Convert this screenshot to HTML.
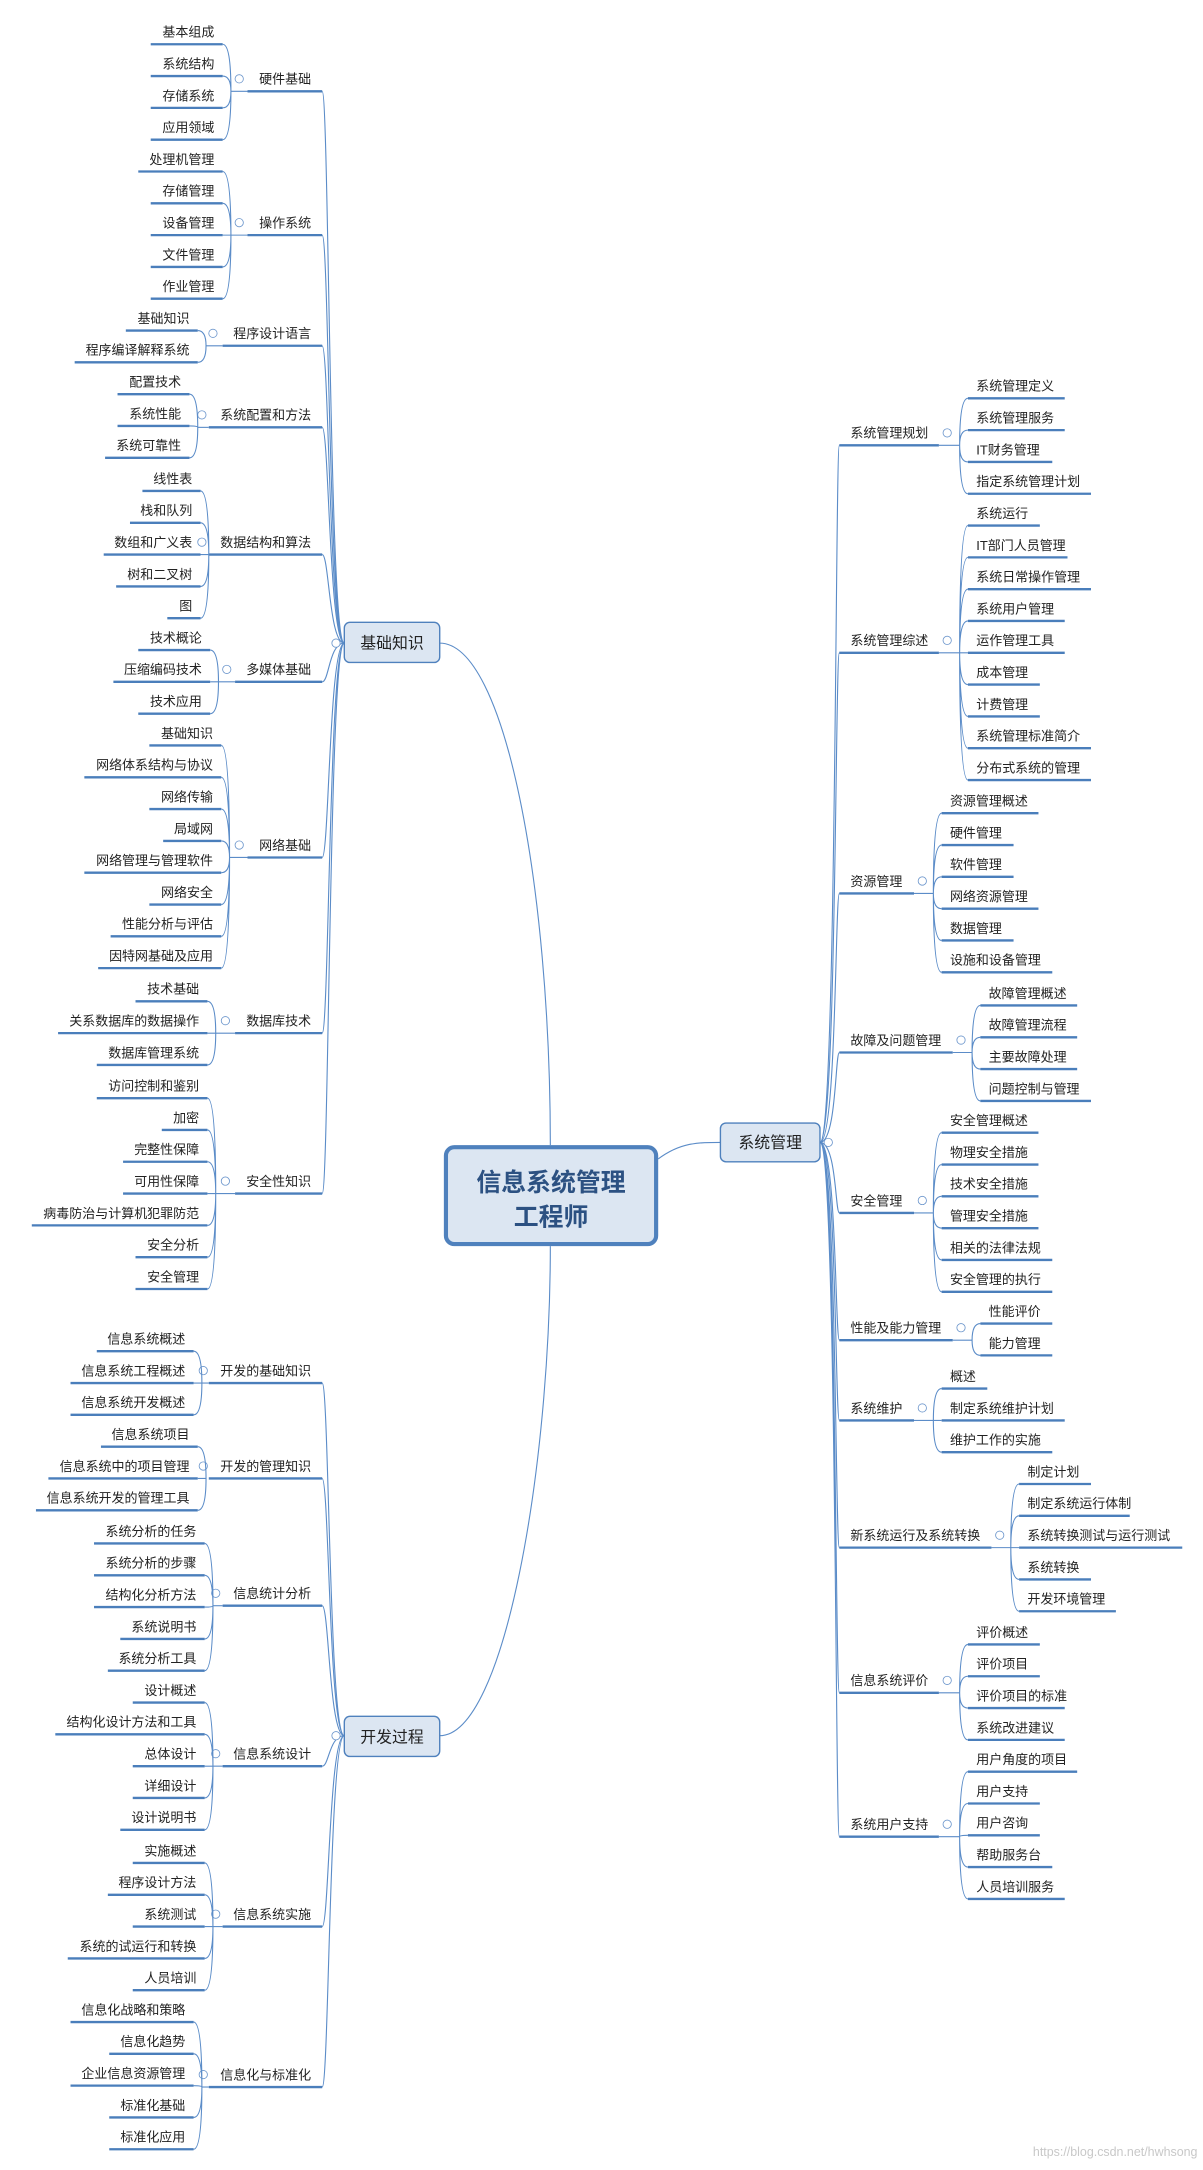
<!DOCTYPE html>
<html><head><meta charset="utf-8">
<style>
html,body{margin:0;padding:0;background:#fff;}
svg{display:block;}
text{font-family:"Liberation Sans","Noto Sans CJK SC","WenQuanYi Zen Hei",sans-serif;font-size:9.4px;fill:#222;}
.u{stroke:#4a7ebb;stroke-width:1.7;fill:none;}
.c{stroke:#5b8cc8;stroke-width:0.8;fill:none;}
.e{text-anchor:end;}
.ci{fill:#fff;stroke:#6c96cc;stroke-width:0.6;}
</style></head><body>
<svg width="1203" height="2170" viewBox="0 0 870 1569" preserveAspectRatio="none" xmlns="http://www.w3.org/2000/svg">
<!-- center connectors -->
<path class="c" d="M318 465C365 465 398 640 398 828"/>
<path class="c" d="M318 1255C365 1255 398 1060 398 901"/>
<path class="c" d="M476 838C492 826 505 826 521 826"/>
<!-- left spine 1 -->
<path class="c" d="M249 465C238 465 238 66 233 66M249 465C238 465 238 170 233 170M249 465C238 465 238 250 233 250M249 465C238 465 238 309 233 309M249 465C238 465 238 401 233 401M249 465C238 465 238 493 233 493M249 465C238 465 238 620 233 620M249 465C238 465 238 747 233 747M249 465C238 465 238 863 233 863"/>
<!-- left spine 2 -->
<path class="c" d="M249 1255C238 1255 238 1000 233 1000M249 1255C238 1255 238 1069 233 1069M249 1255C238 1255 238 1161 233 1161M249 1255C238 1255 238 1277 233 1277M249 1255C238 1255 238 1393 233 1393M249 1255C238 1255 238 1509 233 1509"/>
<!-- right spine -->
<path class="c" d="M593 826C605 826 604 322 607 322M593 826C605 826 604 472 607 472M593 826C605 826 604 646 607 646M593 826C605 826 604 761 607 761M593 826C605 826 604 877 607 877M593 826C605 826 604 969 607 969M593 826C605 826 604 1027 607 1027M593 826C605 826 604 1119 607 1119M593 826C605 826 604 1224 607 1224M593 826C605 826 604 1328 607 1328"/>

<!-- boxes -->
<rect x="249" y="450" width="69" height="29" rx="4" fill="#dce6f2" stroke="#4f81bd" stroke-width="1"/>
<text x="283.5" y="469" text-anchor="middle" style="font-size:11.5px">基础知识</text>
<circle class="ci" cx="243" cy="465" r="3"/>
<rect x="249" y="1241" width="69" height="29" rx="4" fill="#dce6f2" stroke="#4f81bd" stroke-width="1"/>
<text x="283.5" y="1260" text-anchor="middle" style="font-size:11.5px">开发过程</text>
<circle class="ci" cx="243" cy="1255" r="3"/>
<rect x="521" y="812" width="72" height="28" rx="4" fill="#dce6f2" stroke="#4f81bd" stroke-width="1"/>
<text x="557" y="830" text-anchor="middle" style="font-size:11.5px">系统管理</text>
<circle class="ci" cx="599" cy="826" r="3"/>
<rect x="322.5" y="829.5" width="152" height="70" rx="6" fill="#dce6f2" stroke="#4f81bd" stroke-width="3"/>
<text x="398.5" y="861" text-anchor="middle" style="font-size:18px;font-weight:bold;fill:#2c5182">信息系统管理</text>
<text x="398.5" y="886" text-anchor="middle" style="font-size:18px;font-weight:bold;fill:#2c5182">工程师</text>

<!-- ===== LEFT GROUP 1 ===== -->
<!-- 硬件基础 -->
<path class="u" d="M179 66H233"/><path class="c" d="M167 66H179"/><circle class="ci" cx="173" cy="57" r="3"/>
<text class="e" x="225" y="60.5">硬件基础</text>
<path class="c" d="M167 66Q167 32 161 32M167 66Q167 55 161 55M167 66Q167 78 161 78M167 66Q167 101 161 101"/>
<path class="u" d="M109 32H161M109 55H161M109 78H161M109 101H161"/>
<text class="e" x="155" y="26.5">基本组成</text><text class="e" x="155" y="49.5">系统结构</text><text class="e" x="155" y="72.5">存储系统</text><text class="e" x="155" y="95.5">应用领域</text>
<!-- 操作系统 -->
<path class="u" d="M179 170H233"/><path class="c" d="M167 170H179"/><circle class="ci" cx="173" cy="161" r="3"/>
<text class="e" x="225" y="164.5">操作系统</text>
<path class="c" d="M167 170Q167 124 161 124M167 170Q167 147 161 147M167 170H161M167 170Q167 193 161 193M167 170Q167 216 161 216"/>
<path class="u" d="M100 124H161M109 147H161M109 170H161M109 193H161M109 216H161"/>
<text class="e" x="155" y="118.5">处理机管理</text><text class="e" x="155" y="141.5">存储管理</text><text class="e" x="155" y="164.5">设备管理</text><text class="e" x="155" y="187.5">文件管理</text><text class="e" x="155" y="210.5">作业管理</text>
<!-- 程序设计语言 -->
<path class="u" d="M161 250H233"/><path class="c" d="M149 250H161"/><circle class="ci" cx="154" cy="241" r="3"/>
<text class="e" x="225" y="244.5">程序设计语言</text>
<path class="c" d="M149 250Q149 239 143 239M149 250Q149 262 143 262"/>
<path class="u" d="M91 239H143M54 262H143"/>
<text class="e" x="137" y="233.5">基础知识</text><text class="e" x="137" y="256.5">程序编译解释系统</text>
<!-- 系统配置和方法 -->
<path class="u" d="M151 309H233"/><path class="c" d="M143 309H151"/><circle class="ci" cx="146" cy="300" r="3"/>
<text class="e" x="225" y="303.5">系统配置和方法</text>
<path class="c" d="M143 309Q143 285 137 285M143 309Q143 308 137 308M143 309Q143 331 137 331"/>
<path class="u" d="M85 285H137M85 308H137M76 331H137"/>
<text class="e" x="131" y="279.5">配置技术</text><text class="e" x="131" y="302.5">系统性能</text><text class="e" x="131" y="325.5">系统可靠性</text>
<!-- 数据结构和算法 -->
<path class="u" d="M151 401H233"/><circle class="ci" cx="146" cy="392" r="3"/>
<text class="e" x="225" y="395.5">数据结构和算法</text>
<path class="c" d="M151 401Q151 355 145 355M151 401Q151 378 145 378M151 401H145M151 401Q151 424 145 424M151 401Q151 447 145 447"/>
<path class="u" d="M103 355H145M94 378H145M75 401H145M84 424H145M121 447H145"/>
<text class="e" x="139" y="349.5">线性表</text><text class="e" x="139" y="372.5">栈和队列</text><text class="e" x="139" y="395.5">数组和广义表</text><text class="e" x="139" y="418.5">树和二叉树</text><text class="e" x="139" y="441.5">图</text>
<!-- 多媒体基础 -->
<path class="u" d="M170 493H233"/><path class="c" d="M158 493H170"/><circle class="ci" cx="164" cy="484" r="3"/>
<text class="e" x="225" y="487.5">多媒体基础</text>
<path class="c" d="M158 493Q158 470 152 470M158 493H152M158 493Q158 516 152 516"/>
<path class="u" d="M100 470H152M82 493H152M100 516H152"/>
<text class="e" x="146" y="464.5">技术概论</text><text class="e" x="146" y="487.5">压缩编码技术</text><text class="e" x="146" y="510.5">技术应用</text>
<!-- 网络基础 -->
<path class="u" d="M179 620H233"/><path class="c" d="M166 620H179"/><circle class="ci" cx="173" cy="611" r="3"/>
<text class="e" x="225" y="614.5">网络基础</text>
<path class="c" d="M166 620Q166 539 160 539M166 620Q166 562 160 562M166 620Q166 585 160 585M166 620Q166 608 160 608M166 620Q166 631 160 631M166 620Q166 654 160 654M166 620Q166 677 160 677M166 620Q166 700 160 700"/>
<path class="u" d="M108 539H160M61 562H160M108 585H160M118 608H160M61 631H160M108 654H160M80 677H160M71 700H160"/>
<text class="e" x="154" y="533.5">基础知识</text><text class="e" x="154" y="556.5">网络体系结构与协议</text><text class="e" x="154" y="579.5">网络传输</text><text class="e" x="154" y="602.5">局域网</text><text class="e" x="154" y="625.5">网络管理与管理软件</text><text class="e" x="154" y="648.5">网络安全</text><text class="e" x="154" y="671.5">性能分析与评估</text><text class="e" x="154" y="694.5">因特网基础及应用</text>
<!-- 数据库技术 -->
<path class="u" d="M170 747H233"/><path class="c" d="M156 747H170"/><circle class="ci" cx="163" cy="738" r="3"/>
<text class="e" x="225" y="741.5">数据库技术</text>
<path class="c" d="M156 747Q156 724 150 724M156 747H150M156 747Q156 770 150 770"/>
<path class="u" d="M98 724H150M42 747H150M70 770H150"/>
<text class="e" x="144" y="718.5">技术基础</text><text class="e" x="144" y="741.5">关系数据库的数据操作</text><text class="e" x="144" y="764.5">数据库管理系统</text>
<!-- 安全性知识 -->
<path class="u" d="M170 863H233"/><path class="c" d="M156 863H170"/><circle class="ci" cx="163" cy="854" r="3"/>
<text class="e" x="225" y="857.5">安全性知识</text>
<path class="c" d="M156 863Q156 794 150 794M156 863Q156 817 150 817M156 863Q156 840 150 840M156 863H150M156 863Q156 886 150 886M156 863Q156 909 150 909M156 863Q156 932 150 932"/>
<path class="u" d="M70 794H150M117 817H150M89 840H150M89 863H150M23 886H150M98 909H150M98 932H150"/>
<text class="e" x="144" y="788.5">访问控制和鉴别</text><text class="e" x="144" y="811.5">加密</text><text class="e" x="144" y="834.5">完整性保障</text><text class="e" x="144" y="857.5">可用性保障</text><text class="e" x="144" y="880.5">病毒防治与计算机犯罪防范</text><text class="e" x="144" y="903.5">安全分析</text><text class="e" x="144" y="926.5">安全管理</text>

<!-- ===== LEFT GROUP 2 ===== -->
<!-- 开发的基础知识 -->
<path class="u" d="M151 1000H233"/><path class="c" d="M146 1000H151"/><circle class="ci" cx="147" cy="991" r="3"/>
<text class="e" x="225" y="994.5">开发的基础知识</text>
<path class="c" d="M146 1000Q146 977 140 977M146 1000H140M146 1000Q146 1023 140 1023"/>
<path class="u" d="M70 977H140M51 1000H140M51 1023H140"/>
<text class="e" x="134" y="971.5">信息系统概述</text><text class="e" x="134" y="994.5">信息系统工程概述</text><text class="e" x="134" y="1017.5">信息系统开发概述</text>
<!-- 开发的管理知识 -->
<path class="u" d="M151 1069H233"/><circle class="ci" cx="147" cy="1060" r="3"/>
<text class="e" x="225" y="1063.5">开发的管理知识</text>
<path class="c" d="M149 1069Q149 1046 143 1046M149 1069H143M149 1069Q149 1092 143 1092"/>
<path class="u" d="M73 1046H143M35 1069H143M26 1092H143"/>
<text class="e" x="137" y="1040.5">信息系统项目</text><text class="e" x="137" y="1063.5">信息系统中的项目管理</text><text class="e" x="137" y="1086.5">信息系统开发的管理工具</text>
<!-- 信息统计分析 -->
<path class="u" d="M161 1161H233"/><path class="c" d="M154 1161H161"/><circle class="ci" cx="156" cy="1152" r="3"/>
<text class="e" x="225" y="1155.5">信息统计分析</text>
<path class="c" d="M154 1161Q154 1116 148 1116M154 1161Q154 1139 148 1139M154 1161Q154 1162 148 1162M154 1161Q154 1185 148 1185M154 1161Q154 1208 148 1208"/>
<path class="u" d="M68 1116H148M68 1139H148M68 1162H148M87 1185H148M78 1208H148"/>
<text class="e" x="142" y="1110.5">系统分析的任务</text><text class="e" x="142" y="1133.5">系统分析的步骤</text><text class="e" x="142" y="1156.5">结构化分析方法</text><text class="e" x="142" y="1179.5">系统说明书</text><text class="e" x="142" y="1202.5">系统分析工具</text>
<!-- 信息系统设计 -->
<path class="u" d="M161 1277H233"/><path class="c" d="M154 1277H161"/><circle class="ci" cx="156" cy="1268" r="3"/>
<text class="e" x="225" y="1271.5">信息系统设计</text>
<path class="c" d="M154 1277Q154 1231 148 1231M154 1277Q154 1254 148 1254M154 1277H148M154 1277Q154 1300 148 1300M154 1277Q154 1323 148 1323"/>
<path class="u" d="M96 1231H148M40 1254H148M96 1277H148M96 1300H148M87 1323H148"/>
<text class="e" x="142" y="1225.5">设计概述</text><text class="e" x="142" y="1248.5">结构化设计方法和工具</text><text class="e" x="142" y="1271.5">总体设计</text><text class="e" x="142" y="1294.5">详细设计</text><text class="e" x="142" y="1317.5">设计说明书</text>
<!-- 信息系统实施 -->
<path class="u" d="M161 1393H233"/><path class="c" d="M154 1393H161"/><circle class="ci" cx="156" cy="1384" r="3"/>
<text class="e" x="225" y="1387.5">信息系统实施</text>
<path class="c" d="M154 1393Q154 1347 148 1347M154 1393Q154 1370 148 1370M154 1393H148M154 1393Q154 1416 148 1416M154 1393Q154 1439 148 1439"/>
<path class="u" d="M96 1347H148M78 1370H148M96 1393H148M49 1416H148M96 1439H148"/>
<text class="e" x="142" y="1341.5">实施概述</text><text class="e" x="142" y="1364.5">程序设计方法</text><text class="e" x="142" y="1387.5">系统测试</text><text class="e" x="142" y="1410.5">系统的试运行和转换</text><text class="e" x="142" y="1433.5">人员培训</text>
<!-- 信息化与标准化 -->
<path class="u" d="M151 1509H233"/><path class="c" d="M146 1509H151"/><circle class="ci" cx="147" cy="1500" r="3"/>
<text class="e" x="225" y="1503.5">信息化与标准化</text>
<path class="c" d="M146 1509Q146 1462 140 1462M146 1509Q146 1485 140 1485M146 1509Q146 1508 140 1508M146 1509Q146 1531 140 1531M146 1509Q146 1554 140 1554"/>
<path class="u" d="M51 1462H140M79 1485H140M51 1508H140M79 1531H140M79 1554H140"/>
<text class="e" x="134" y="1456.5">信息化战略和策略</text><text class="e" x="134" y="1479.5">信息化趋势</text><text class="e" x="134" y="1502.5">企业信息资源管理</text><text class="e" x="134" y="1525.5">标准化基础</text><text class="e" x="134" y="1548.5">标准化应用</text>

<!-- ===== RIGHT ===== -->
<!-- 系统管理规划 -->
<path class="u" d="M607 322H679"/><path class="c" d="M679 322H694"/><circle class="ci" cx="685" cy="313" r="3"/>
<text x="615" y="316.5">系统管理规划</text>
<path class="c" d="M694 322Q694 288 700 288M694 322Q694 311 700 311M694 322Q694 334 700 334M694 322Q694 357 700 357"/>
<path class="u" d="M700 288H770M700 311H770M700 334H761M700 357H789"/>
<text x="706" y="282.5">系统管理定义</text><text x="706" y="305.5">系统管理服务</text><text x="706" y="328.5">IT财务管理</text><text x="706" y="351.5">指定系统管理计划</text>
<!-- 系统管理综述 -->
<path class="u" d="M607 472H679"/><path class="c" d="M679 472H694"/><circle class="ci" cx="685" cy="463" r="3"/>
<text x="615" y="466.5">系统管理综述</text>
<path class="c" d="M694 472Q694 380 700 380M694 472Q694 403 700 403M694 472Q694 426 700 426M694 472Q694 449 700 449M694 472H700M694 472Q694 495 700 495M694 472Q694 518 700 518M694 472Q694 541 700 541M694 472Q694 564 700 564"/>
<path class="u" d="M700 380H752M700 403H772M700 426H789M700 449H770M700 472H770M700 495H752M700 518H752M700 541H789M700 564H789"/>
<text x="706" y="374.5">系统运行</text><text x="706" y="397.5">IT部门人员管理</text><text x="706" y="420.5">系统日常操作管理</text><text x="706" y="443.5">系统用户管理</text><text x="706" y="466.5">运作管理工具</text><text x="706" y="489.5">成本管理</text><text x="706" y="512.5">计费管理</text><text x="706" y="535.5">系统管理标准简介</text><text x="706" y="558.5">分布式系统的管理</text>
<!-- 资源管理 -->
<path class="u" d="M607 646H661"/><path class="c" d="M661 646H675"/><circle class="ci" cx="667" cy="637" r="3"/>
<text x="615" y="640.5">资源管理</text>
<path class="c" d="M675 646Q675 588 681 588M675 646Q675 611 681 611M675 646Q675 634 681 634M675 646Q675 657 681 657M675 646Q675 680 681 680M675 646Q675 703 681 703"/>
<path class="u" d="M681 588H751M681 611H733M681 634H733M681 657H751M681 680H733M681 703H761"/>
<text x="687" y="582.5">资源管理概述</text><text x="687" y="605.5">硬件管理</text><text x="687" y="628.5">软件管理</text><text x="687" y="651.5">网络资源管理</text><text x="687" y="674.5">数据管理</text><text x="687" y="697.5">设施和设备管理</text>
<!-- 故障及问题管理 -->
<path class="u" d="M607 761H689"/><path class="c" d="M689 761H703"/><circle class="ci" cx="695" cy="752" r="3"/>
<text x="615" y="755.5">故障及问题管理</text>
<path class="c" d="M703 761Q703 727 709 727M703 761Q703 750 709 750M703 761Q703 773 709 773M703 761Q703 796 709 796"/>
<path class="u" d="M709 727H779M709 750H779M709 773H779M709 796H789"/>
<text x="715" y="721.5">故障管理概述</text><text x="715" y="744.5">故障管理流程</text><text x="715" y="767.5">主要故障处理</text><text x="715" y="790.5">问题控制与管理</text>
<!-- 安全管理 -->
<path class="u" d="M607 877H661"/><path class="c" d="M661 877H675"/><circle class="ci" cx="667" cy="868" r="3"/>
<text x="615" y="871.5">安全管理</text>
<path class="c" d="M675 877Q675 819 681 819M675 877Q675 842 681 842M675 877Q675 865 681 865M675 877Q675 888 681 888M675 877Q675 911 681 911M675 877Q675 934 681 934"/>
<path class="u" d="M681 819H751M681 842H751M681 865H751M681 888H751M681 911H761M681 934H761"/>
<text x="687" y="813.5">安全管理概述</text><text x="687" y="836.5">物理安全措施</text><text x="687" y="859.5">技术安全措施</text><text x="687" y="882.5">管理安全措施</text><text x="687" y="905.5">相关的法律法规</text><text x="687" y="928.5">安全管理的执行</text>
<!-- 性能及能力管理 -->
<path class="u" d="M607 969H689"/><path class="c" d="M689 969H703"/><circle class="ci" cx="695" cy="960" r="3"/>
<text x="615" y="963.5">性能及能力管理</text>
<path class="c" d="M703 969Q703 957 709 957M703 969Q703 980 709 980"/>
<path class="u" d="M709 957H761M709 980H761"/>
<text x="715" y="951.5">性能评价</text><text x="715" y="974.5">能力管理</text>
<!-- 系统维护 -->
<path class="u" d="M607 1027H661"/><path class="c" d="M661 1027H675"/><circle class="ci" cx="667" cy="1018" r="3"/>
<text x="615" y="1021.5">系统维护</text>
<path class="c" d="M675 1027Q675 1004 681 1004M675 1027H681M675 1027Q675 1050 681 1050"/>
<path class="u" d="M681 1004H714M681 1027H770M681 1050H761"/>
<text x="687" y="998.5">概述</text><text x="687" y="1021.5">制定系统维护计划</text><text x="687" y="1044.5">维护工作的实施</text>
<!-- 新系统运行及系统转换 -->
<path class="u" d="M607 1119H717"/><path class="c" d="M717 1119H731"/><circle class="ci" cx="723" cy="1110" r="3"/>
<text x="615" y="1113.5">新系统运行及系统转换</text>
<path class="c" d="M731 1119Q731 1073 737 1073M731 1119Q731 1096 737 1096M731 1119H737M731 1119Q731 1142 737 1142M731 1119Q731 1165 737 1165"/>
<path class="u" d="M737 1073H789M737 1096H817M737 1119H855M737 1142H789M737 1165H807"/>
<text x="743" y="1067.5">制定计划</text><text x="743" y="1090.5">制定系统运行体制</text><text x="743" y="1113.5">系统转换测试与运行测试</text><text x="743" y="1136.5">系统转换</text><text x="743" y="1159.5">开发环境管理</text>
<!-- 信息系统评价 -->
<path class="u" d="M607 1224H679"/><path class="c" d="M679 1224H694"/><circle class="ci" cx="685" cy="1215" r="3"/>
<text x="615" y="1218.5">信息系统评价</text>
<path class="c" d="M694 1224Q694 1189 700 1189M694 1224Q694 1212 700 1212M694 1224Q694 1235 700 1235M694 1224Q694 1258 700 1258"/>
<path class="u" d="M700 1189H752M700 1212H752M700 1235H770M700 1258H770"/>
<text x="706" y="1183.5">评价概述</text><text x="706" y="1206.5">评价项目</text><text x="706" y="1229.5">评价项目的标准</text><text x="706" y="1252.5">系统改进建议</text>
<!-- 系统用户支持 -->
<path class="u" d="M607 1328H679"/><path class="c" d="M679 1328H694"/><circle class="ci" cx="685" cy="1319" r="3"/>
<text x="615" y="1322.5">系统用户支持</text>
<path class="c" d="M694 1328Q694 1281 700 1281M694 1328Q694 1304 700 1304M694 1328Q694 1327 700 1327M694 1328Q694 1350 700 1350M694 1328Q694 1373 700 1373"/>
<path class="u" d="M700 1281H779M700 1304H752M700 1327H752M700 1350H761M700 1373H770"/>
<text x="706" y="1275.5">用户角度的项目</text><text x="706" y="1298.5">用户支持</text><text x="706" y="1321.5">用户咨询</text><text x="706" y="1344.5">帮助服务台</text><text x="706" y="1367.5">人员培训服务</text>

<text x="866" y="1559" text-anchor="end" style="font-size:9px;fill:#c8c8c8">https://blog.csdn.net/hwhsong</text>
</svg>
</body></html>
